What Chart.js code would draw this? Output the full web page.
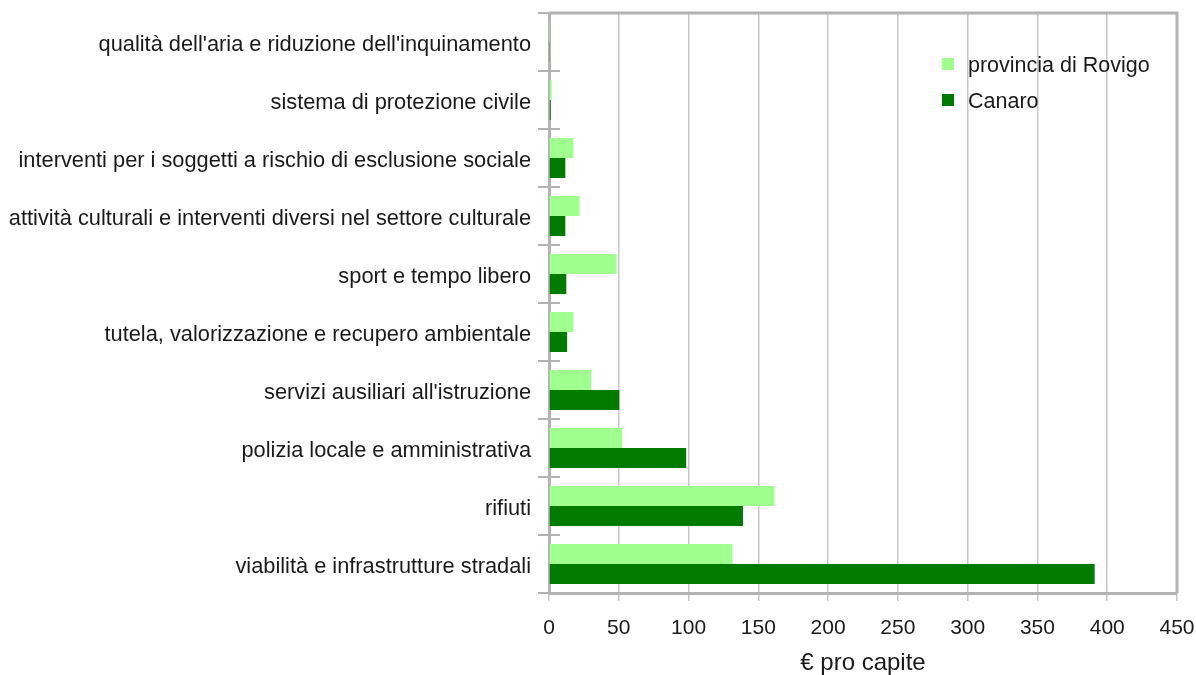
<!DOCTYPE html>
<html><head><meta charset="utf-8">
<script src="https://cdn.jsdelivr.net/npm/chart.js@4/dist/chart.umd.min.js"></script>
<style>html,body{margin:0;padding:0;background:#fff}canvas{display:block}</style>
</head><body>
<canvas id="c" width="1196" height="675"></canvas>
<script>
const categories = [
  "qualità dell'aria e riduzione dell'inquinamento",
  "sistema di protezione civile",
  "interventi per i soggetti a rischio di esclusione sociale",
  "attività culturali e interventi diversi nel settore culturale",
  "sport e tempo libero",
  "tutela, valorizzazione e recupero ambientale",
  "servizi ausiliari all'istruzione",
  "polizia locale e amministrativa",
  "rifiuti",
  "viabilità e infrastrutture stradali"
];
const provinciaRovigo = [0.3, 1.9, 17.5, 22, 48.5, 17.5, 30.3, 52.5, 161.6, 131.5];
const canaro = [0.7, 1.2, 11.7, 11.7, 12.4, 13, 50.4, 98.3, 139, 391];
const seriesNames = ["provincia di Rovigo", "Canaro"];
const xTicks = [0, 50, 100, 150, 200, 250, 300, 350, 400, 450];
const xTitle = "€ pro capite";

const FONT = "'Liberation Sans', Arial, sans-serif";
const GRAY = '#b3b3b3';

const framePlugin = {
  id: 'frame',
  afterDraw(chart) {
    const {ctx, chartArea: a} = chart;
    const y = chart.scales.y;
    ctx.save();
    ctx.strokeStyle = GRAY;
    ctx.lineWidth = 3;
    ctx.beginPath();
    ctx.moveTo(a.left, a.top); ctx.lineTo(a.right, a.top); ctx.lineTo(a.right, a.bottom);
    ctx.stroke();
    ctx.lineWidth = 2;
    const n = categories.length;
    const half = (y.getPixelForValue(1) - y.getPixelForValue(0)) / 2;
    ctx.beginPath();
    for (let i = 0; i <= n; i++) {
      const py = Math.round((i < n ? y.getPixelForValue(i) - half : y.getPixelForValue(n - 1) + half));
      ctx.moveTo(a.left, py); ctx.lineTo(a.left + 11, py);
    }
    ctx.stroke();
    ctx.font = '21.5px ' + FONT;
    ctx.textBaseline = 'middle';
    ctx.textAlign = 'left';
    chart.data.datasets.forEach((ds, i) => {
      const cy = a.top + 51 + i * 36;
      const lx = a.right - 235;
      ctx.fillStyle = ds.backgroundColor;
      ctx.fillRect(lx, cy - 6, 12, 12);
      ctx.fillStyle = '#1a1a1a';
      ctx.fillText(ds.label, lx + 26, cy + 2);
    });
    ctx.restore();
  }
};

new Chart(document.getElementById('c'), {
  type: 'bar',
  data: {
    labels: categories,
    datasets: [
      {label: seriesNames[0], data: provinciaRovigo, backgroundColor: '#9fff8f', categoryPercentage: 0.69, barPercentage: 1.0},
      {label: seriesNames[1], data: canaro, backgroundColor: '#007b00', categoryPercentage: 0.69, barPercentage: 1.0}
    ]
  },
  options: {
    indexAxis: 'y',
    responsive: false,
    animation: false,
    layout: {padding: {top: 13, right: 19, left: 0, bottom: 0}},
    plugins: {legend: {display: false}, tooltip: {enabled: false}},
    scales: {
      x: {
        min: 0, max: 450,
        afterBuildTicks(s) { s.ticks = xTicks.map(v => ({value: v})); },
        afterFit(s) { s.height = 82; s.paddingLeft = 0; s.paddingRight = 0; },
        ticks: {color: '#1a1a1a', font: {family: FONT, size: 21}, padding: 15},
        grid: {color: '#c8c8c8', lineWidth: 1.5, tickLength: 8, drawTicks: true},
        border: {color: GRAY, width: 3},
        title: {display: true, text: xTitle, color: '#1a1a1a', font: {family: FONT, size: 24}, padding: {top: 4, bottom: -3}}
      },
      y: {
        afterFit(s) { s.width = 549; s.paddingTop = 0; s.paddingBottom = 0; },
        ticks: {color: '#1a1a1a', font: {family: FONT, size: 21.8}, padding: 7, labelOffset: 3},
        grid: {drawOnChartArea: false, drawTicks: true, tickLength: 11, color: GRAY, lineWidth: 2, offset: true},
        border: {color: GRAY, width: 3}
      }
    }
  },
  plugins: [framePlugin]
});
</script>
</body></html>
